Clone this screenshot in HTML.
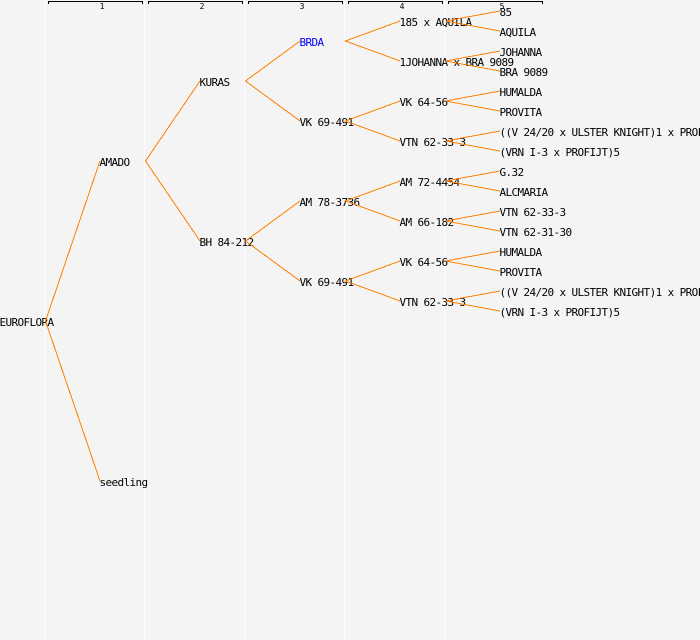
<!DOCTYPE html>
<html>
<head>
<meta charset="utf-8">
<style>
html,body{margin:0;padding:0;background:#f4f4f4;}
svg{display:block;}
text{font-family:"DejaVu Sans Mono","Liberation Mono",monospace;font-size:11px;letter-spacing:-0.62px;fill:#000;}
.n{font-family:"DejaVu Sans Mono","Liberation Mono",monospace;font-size:8px;letter-spacing:0;text-anchor:middle;}
.c{stroke:#ff8000;stroke-width:1;fill:none;shape-rendering:crispEdges;}
.g{stroke:#fff;stroke-width:1;shape-rendering:crispEdges;}
.b{stroke:#000;stroke-width:1;fill:none;shape-rendering:crispEdges;}
</style>
</head>
<body>
<svg width="700" height="640" viewBox="0 0 700 640" xmlns="http://www.w3.org/2000/svg">
<rect width="700" height="640" fill="#f4f4f4"/>
<path class="g" d="M44.5 0V640M144.5 0V640M244.5 0V640M344.5 0V640M444.5 0V640"/>
<path class="b" d="M48.5 4V1.5H142.5V4M148.5 4V1.5H242.5V4M248.5 4V1.5H342.5V4M348.5 4V1.5H442.5V4M448.5 4V1.5H542.5V4"/>
<text class="n" x="102" y="9">1</text>
<text class="n" x="202" y="9">2</text>
<text class="n" x="302" y="9">3</text>
<text class="n" x="402" y="9">4</text>
<text class="n" x="502" y="9">5</text>
<text x="-0.5" y="326">EUROFLORA</text>
<text x="99.5" y="166">AMADO</text>
<text x="99.5" y="486">seedling</text>
<text x="199.5" y="86">KURAS</text>
<text x="199.5" y="246">BH 84-212</text>
<text x="299.5" y="46" style="fill:#0000ff">BRDA</text>
<text x="299.5" y="126">VK 69-491</text>
<text x="299.5" y="206">AM 78-3736</text>
<text x="299.5" y="286">VK 69-491</text>
<text x="399.5" y="26">185 x AQUILA</text>
<text x="399.5" y="66">1JOHANNA x BRA 9089</text>
<text x="399.5" y="106">VK 64-56</text>
<text x="399.5" y="146">VTN 62-33-3</text>
<text x="399.5" y="186">AM 72-4454</text>
<text x="399.5" y="226">AM 66-182</text>
<text x="399.5" y="266">VK 64-56</text>
<text x="399.5" y="306">VTN 62-33-3</text>
<text x="499.5" y="16">85</text>
<text x="499.5" y="36">AQUILA</text>
<text x="499.5" y="56">JOHANNA</text>
<text x="499.5" y="76">BRA 9089</text>
<text x="499.5" y="96">HUMALDA</text>
<text x="499.5" y="116">PROVITA</text>
<text x="499.5" y="136">((V 24/20 x ULSTER KNIGHT)1 x PROFIJT)</text>
<text x="499.5" y="156">(VRN I-3 x PROFIJT)5</text>
<text x="499.5" y="176">G.32</text>
<text x="499.5" y="196">ALCMARIA</text>
<text x="499.5" y="216">VTN 62-33-3</text>
<text x="499.5" y="236">VTN 62-31-30</text>
<text x="499.5" y="256">HUMALDA</text>
<text x="499.5" y="276">PROVITA</text>
<text x="499.5" y="296">((V 24/20 x ULSTER KNIGHT)1 x PROFIJT)</text>
<text x="499.5" y="316">(VRN I-3 x PROFIJT)5</text>
<g class="c">
<path d="M100 161L45.5 321L100 481"/>
<path d="M200 81L145.5 161L200 241"/>
<path d="M300 41L245.5 81L300 121"/>
<path d="M300 201L245.5 241L300 281"/>
<path d="M400 21L345.5 41L400 61"/>
<path d="M400 101L345.5 121L400 141"/>
<path d="M400 181L345.5 201L400 221"/>
<path d="M400 261L345.5 281L400 301"/>
<path d="M500 11L445.5 21L500 31"/>
<path d="M500 51L445.5 61L500 71"/>
<path d="M500 91L445.5 101L500 111"/>
<path d="M500 131L445.5 141L500 151"/>
<path d="M500 171L445.5 181L500 191"/>
<path d="M500 211L445.5 221L500 231"/>
<path d="M500 251L445.5 261L500 271"/>
<path d="M500 291L445.5 301L500 311"/>
</g>
</svg>
</body>
</html>
